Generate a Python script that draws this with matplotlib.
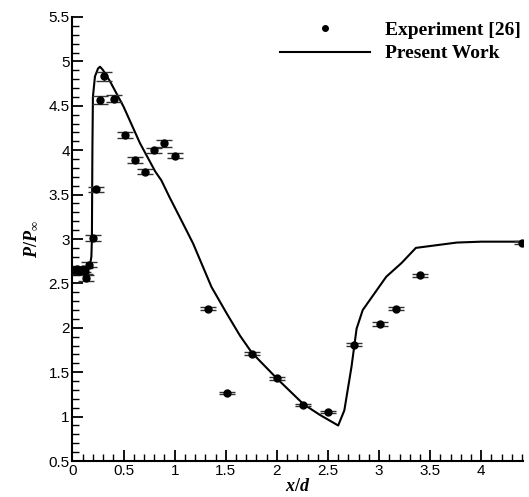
import matplotlib
matplotlib.use("Agg")
import matplotlib.pyplot as plt
from matplotlib.lines import Line2D
from matplotlib.ticker import MultipleLocator

# experiment [26]
exp_x = [0.02, 0.04, 0.06, 0.08, 0.10, 0.12, 0.13, 0.16, 0.20, 0.23, 0.27, 0.31,
         0.41, 0.51, 0.61, 0.71, 0.80, 0.90, 1.00, 1.33, 1.51, 1.755, 2.00,
         2.26, 2.50, 2.75, 3.01, 3.17, 3.40, 4.40]
exp_y = [2.65, 2.66, 2.64, 2.65, 2.66, 2.64, 2.56, 2.71, 3.01, 3.56, 4.565, 4.83,
         4.58, 4.17, 3.89, 3.76, 4.00, 4.08, 3.94, 2.215, 1.27, 1.71, 1.43,
         1.13, 1.05, 1.81, 2.04, 2.215, 2.59, 2.96]
exp_err = [0.03, 0.03, 0.03, 0.03, 0.03, 0.03, 0.03, 0.03, 0.03, 0.03, 0.05, 0.05,
           0.04, 0.03, 0.03, 0.03, 0.03, 0.04, 0.03, 0.02, 0.01, 0.02, 0.02,
           0.01, 0.01, 0.02, 0.02, 0.02, 0.02, 0.02]

# present work
cfd_x = [0.0, 0.10, 0.15, 0.17, 0.185, 0.19, 0.195, 0.20, 0.22, 0.25, 0.27, 0.30,
         0.37, 0.50, 0.66, 0.81, 0.87, 0.95, 1.07, 1.18, 1.36, 1.51, 1.64, 1.755,
         2.00, 2.26, 2.42, 2.60, 2.66, 2.73, 2.78, 2.84, 3.07, 3.22, 3.36, 3.56,
         3.76, 4.00, 4.40]
cfd_y = [2.65, 2.65, 2.65, 2.70, 2.80, 3.00, 4.00, 4.60, 4.83, 4.92, 4.94, 4.90,
         4.77, 4.49, 4.08, 3.76, 3.66, 3.47, 3.20, 2.95, 2.46, 2.16, 1.91, 1.72,
         1.43, 1.14, 1.02, 0.90, 1.07, 1.56, 1.99, 2.20, 2.575, 2.73, 2.90, 2.93,
         2.96, 2.97, 2.97]

plt.rcParams['font.family'] = 'Liberation Sans'
plt.rcParams['mathtext.fontset'] = 'custom'
plt.rcParams['mathtext.it'] = 'Liberation Serif:italic:bold'
plt.rcParams['mathtext.rm'] = 'Liberation Serif:bold'

fig = plt.figure(figsize=(5.29, 4.97), dpi=100)
ax = fig.add_axes([0.137, 0.0724, 0.852, 0.8934])

ax.plot(cfd_x, cfd_y, color='black', lw=1.5)
ax.errorbar(exp_x, exp_y, yerr=exp_err, fmt='o', color='black', ms=5,
            ecolor='#333333', elinewidth=1, capsize=5.5, capthick=1)

ax.set_xlim(0, 4.41)
ax.set_ylim(0.5, 5.5)
ax.xaxis.set_minor_locator(MultipleLocator(0.1))
ax.yaxis.set_minor_locator(MultipleLocator(0.1))
ax.set_xticks([0, 0.5, 1, 1.5, 2, 2.5, 3, 3.5, 4])
ax.set_xticklabels(['0', '0.5', '1', '1.5', '2', '2.5', '3', '3.5', '4'])
ax.set_yticks([0.5, 1, 1.5, 2, 2.5, 3, 3.5, 4, 4.5, 5, 5.5])
ax.set_yticklabels(['0.5', '1', '1.5', '2', '2.5', '3', '3.5', '4', '4.5', '5', '5.5'])

for s in ['top', 'right']:
    ax.spines[s].set_visible(False)
for s in ['left', 'bottom']:
    ax.spines[s].set_linewidth(1.5)
ax.tick_params(which='major', direction='in', length=8, width=1.3, labelsize=11, pad=2)
ax.tick_params(which='minor', direction='in', length=5, width=1)

ax.set_xlabel(r'$x/d$', fontsize=13, labelpad=0)
ax.set_ylabel(r'$P/P_{\infty}$', fontsize=13, labelpad=6)

handles = [Line2D([], [], ls='none', marker='o', ms=4, color='black'),
           Line2D([], [], color='black', lw=1.5)]
labels = ['Experiment [26]', 'Present Work']
fig.legend(handles, labels, loc='upper right', bbox_to_anchor=(0.985, 0.957),
           frameon=False, handlelength=4.6, handletextpad=0.8,
           labelspacing=0.3, borderpad=0, borderaxespad=0,
           prop={'family': 'Liberation Serif', 'weight': 'bold', 'size': 14})

fig.savefig('out.png', dpi=100)
